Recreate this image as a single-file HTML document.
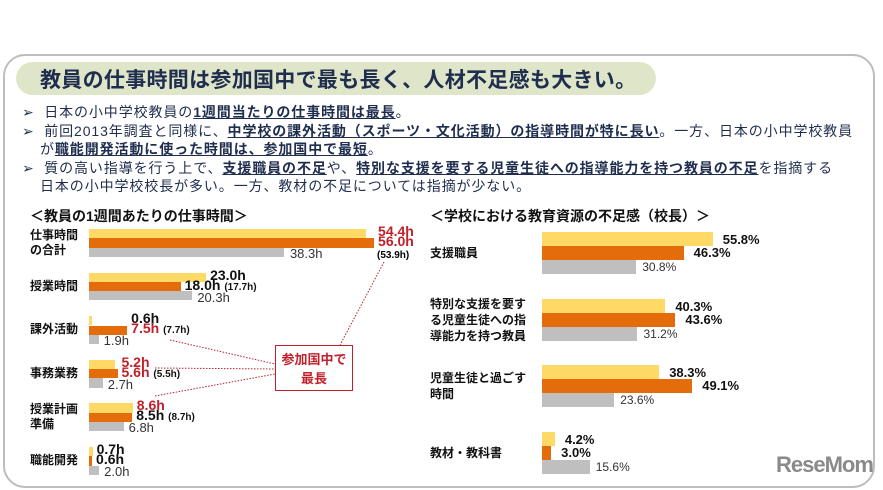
<!DOCTYPE html>
<html><head><meta charset="utf-8"><style>
body{margin:0;width:883px;height:490px;background:#fff;position:relative;overflow:hidden;font-family:"Liberation Sans","Noto Sans CJK JP",sans-serif;}
.abs{position:absolute;}
.frame{left:3px;top:54px;width:868px;height:430px;border:2px solid #bdbdbd;border-radius:22px;}
.pill{left:16px;top:62px;width:640px;height:33px;background:#dfe5c8;border-radius:17px;}
.title{left:40px;top:64px;font-size:21px;font-weight:bold;color:#1f2d4e;white-space:nowrap;letter-spacing:0.3px}
.bl{left:22px;font-size:14px;letter-spacing:0.9px;color:#1f2d4e;white-space:nowrap;}
.bl b{text-decoration:underline;}
.sub{font-size:14px;font-weight:bold;color:#111;white-space:nowrap;}
.cat{font-size:12px;font-weight:bold;color:#111;line-height:15px;}
.lab{font-size:12px;white-space:nowrap;line-height:12px;}
</style></head><body>
<div class="abs frame"></div>
<div class="abs pill"></div>
<div class="abs title">教員の仕事時間は参加国中で最も長く、人材不足感も大きい。</div>
<div class="abs bl" style="top:102px">➢&nbsp; 日本の小中学校教員の<b>1週間当たりの仕事時間は最長</b>。</div>
<div class="abs bl" style="top:121px">➢&nbsp; 前回2013年調査と同様に、<b>中学校の課外活動（スポーツ・文化活動）の指導時間が特に長い</b>。一方、日本の小中学校教員</div>
<div class="abs bl" style="top:139px;left:40px">が<b>職能開発活動に使った時間は、参加国中で最短</b>。</div>
<div class="abs bl" style="top:158px">➢&nbsp; 質の高い指導を行う上で、<b>支援職員の不足</b>や、<b>特別な支援を要する児童生徒への指導能力を持つ教員の不足</b>を指摘する</div>
<div class="abs bl" style="top:176px;left:40px">日本の小中学校校長が多い。一方、教材の不足については指摘が少ない。</div>
<div class="abs sub" style="left:30px;top:206px">＜教員の1週間あたりの仕事時間＞</div>
<div class="abs sub" style="left:430px;top:206px">＜学校における教育資源の不足感（校長）＞</div>
<div id="charts"></div>
<svg class="abs" style="left:0;top:0" width="883" height="490" id="lines">
<g stroke="#c0202a" stroke-width="1" stroke-dasharray="1.5,1.5" fill="none">
<line x1="384" y1="262" x2="340" y2="345"/>
<line x1="170" y1="340" x2="275" y2="364"/>
<line x1="155" y1="368" x2="275" y2="369"/>
<line x1="155" y1="396" x2="275" y2="374"/>
</g></svg>
<div class="abs" style="left:275px;top:345px;width:78px;height:46px;border:1.5px solid #c0202a;background:#fff;color:#c0202a;font-weight:bold;font-size:13px;text-align:center;line-height:19px;padding-top:4px;box-sizing:border-box">参加国中で<br>最長</div>
<div class="abs" style="left:776px;top:452px;font-size:22px;font-weight:bold;color:#8a8a8a;letter-spacing:-1px">ReseMom</div>
<script>
const leftCats=["仕事時間<br>の合計","授業時間","課外活動","事務業務","授業計画<br>準備","職能開発"];
const leftJpSmall=[54.4,23.0,0.6,5.2,8.6,0.7];
const leftJpMid=[56.0,18.0,7.5,5.6,8.5,0.6];
const leftAvg=[38.3,20.3,1.9,2.7,6.8,2.0];
const leftPrev=["(53.9h)","(17.7h)","(7.7h)","(5.5h)","(8.7h)",""];
const leftRed1=[true,false,false,true,true,false];
const leftRed2=[true,false,true,true,false,false];
const rightCats=["支援職員","特別な支援を要す<br>る児童生徒への指<br>導能力を持つ教員","児童生徒と過ごす<br>時間","教材・教科書"];
const rightJp=[55.8,40.3,38.3,4.2];
const rightJpMid=[46.3,43.6,49.1,3.0];
const rightAvg=[30.8,31.2,23.6,15.6];
const C=["#ffd966","#e46c0a","#bfbfbf"];
const root=document.getElementById('charts');
function xL(v){return 89+v*5.09;}
function xR(v){return 542+v*3.06;}
function mk(cls,style,html){const d=document.createElement('div');d.className='abs '+cls;d.style.cssText=style;d.innerHTML=html||'';root.appendChild(d);return d;}
leftCats.forEach((c,i)=>{
  const y0=229+i*43.6;
  const cat=mk('cat',`left:30px;top:${y0+13.5-(c.includes('<br>')?15:7.5)}px`,c);
  
  
  [leftJpSmall[i],leftJpMid[i],leftAvg[i]].forEach((v,k)=>{
    const b=mk('',`left:89px;top:${y0+k*9.3}px;width:${xL(v)-89}px;height:9.3px;background:${C[k]}`);
    
    
  });
  const big='font-size:14px;font-weight:bold;';
  const l1=mk('lab',`left:${xL(Math.max(leftJpSmall[i],leftJpMid[i]))+4}px;top:${y0-4}px;${big}color:${leftRed1[i]?'#c0202a':'#111'}`,leftJpSmall[i].toFixed(1)+'h');
  
  
  const l2=mk('lab',`left:${xL(leftJpMid[i])+4}px;top:${y0+6}px;${big}color:${leftRed2[i]?'#c0202a':'#111'}`,leftJpMid[i].toFixed(1)+'h <span style="font-size:10px;color:#111">'+(i==0?'':leftPrev[i])+'</span>');
  
  
  if(i==0){const p=mk('lab',`left:377px;top:${y0+21}px;font-size:10px;font-weight:bold`,leftPrev[0]);}
  const l3=mk('lab',`left:${xL(leftAvg[i])+(i==0?6:5)}px;top:${y0+19}px;color:#333;font-size:13px`,leftAvg[i].toFixed(1)+'h');
  
  
});
rightCats.forEach((c,i)=>{
  const y0=232+i*66.7;
  const n=(c.match(/<br>/g)||[]).length+1;
  const cat=mk('cat',`left:430px;top:${y0+21-n*8}px;line-height:16px`,c);
  
  
  const vals=[rightJp[i],rightJpMid[i],rightAvg[i]];
  vals.forEach((v,k)=>{
    const b=mk('',`left:542px;top:${y0+k*14}px;width:${xR(v)-542}px;height:14px;background:${C[k]}`);
    
    
    const l=mk('lab',`left:${xR(v)+(k==2?6:10)}px;top:${y0+k*14+(k==0?2:1)}px;font-size:13px;${k<2?'font-weight:bold;color:#111':'color:#333;font-size:12px'}`,v.toFixed(1)+'%');
    
    
  });
});
</script>
</body></html>
